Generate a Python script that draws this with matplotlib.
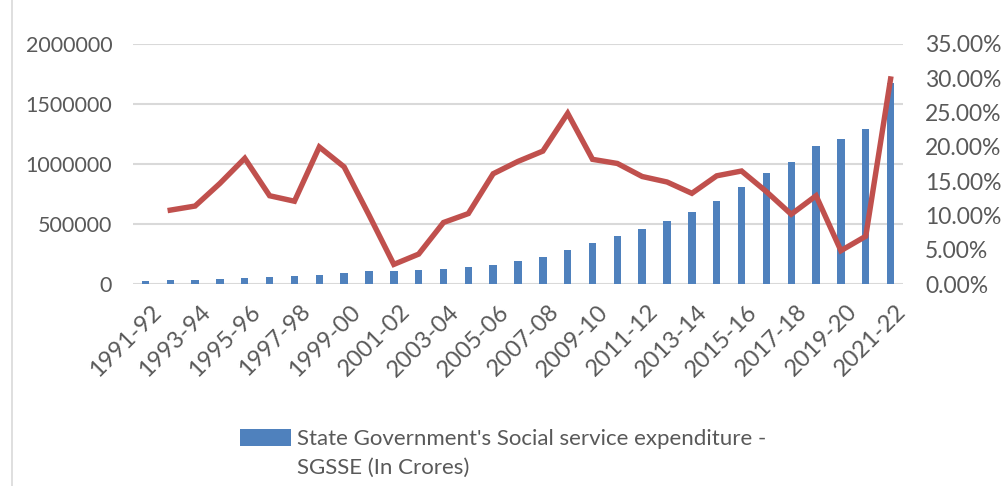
import numpy as np
import matplotlib
matplotlib.use("Agg")
import matplotlib.pyplot as plt
import matplotlib.transforms as mtransforms
from matplotlib.lines import Line2D
from matplotlib.patches import Rectangle
from matplotlib.ticker import FuncFormatter

plt.rcParams['font.family'] = ['Lato', 'DejaVu Sans']

# fiscal years 1991-92 .. 2021-22
years = [f"{y}-{str(y + 1)[-2:]}" for y in range(1991, 2022)]

# SGSSE, in crores
sgsse = [28000, 33000, 39000, 44000, 52000, 61000, 69000, 80000, 97000, 108000,
         111000, 119000, 130000, 141000, 163000, 194000, 228000, 287000, 340000,
         398000, 462000, 531000, 603000, 697000, 813000, 924000, 1015000, 1148000,
         1206000, 1291000, 1679000]

# annual growth rate (%), none for the first year
growth = [np.nan, 10.8, 11.4, 14.7, 18.35, 12.9, 12.1, 20.0, 17.1, 10.1, 2.9,
          4.4, 9.0, 10.3, 16.1, 17.9, 19.4, 24.9, 18.2, 17.6, 15.7, 14.9, 13.25,
          15.8, 16.5, 13.5, 10.2, 12.9, 4.9, 7.0, 29.9]

legend_lines = ["State Government's Social service expenditure -",
                "SGSSE (In Crores)"]

txt = '#595959'
fig = plt.figure(figsize=(10.03, 4.86), dpi=100)
ax = fig.add_axes([0.1326, 0.415, 0.7677, 0.4945])
x = np.arange(len(years))

ax.set_axisbelow(True)
ax.yaxis.grid(True, color='#D9D9D9', linewidth=1.5)
bars = ax.bar(x, sgsse, width=0.3, color='#4F81BD', zorder=2)
ax.set_xlim(-0.5, len(years) - 0.5)
ax.set_ylim(0, 2000000)
ax.set_yticks(np.arange(0, 2000001, 500000))
ax.yaxis.set_major_formatter(FuncFormatter(lambda v, p: f"{int(v)}"))
ax.set_xticks(x[::2])
ax.set_xticklabels(years[::2], rotation=45, ha='right', va='top',
                   rotation_mode='anchor')
for s in ax.spines.values():
    s.set_visible(False)
ax.tick_params(axis='y', length=0, labelsize=15.5, colors=txt, pad=15)
ax.tick_params(axis='x', length=0, labelsize=17, colors=txt, pad=12)
shift = mtransforms.ScaledTranslation(5 / 100, 0, fig.dpi_scale_trans)
for lab in ax.get_xticklabels():
    lab.set_transform(lab.get_transform() + shift)

ax2 = ax.twinx()
ax2.plot(x, [g / 100 for g in growth], color='#C0504D', linewidth=3.9,
         solid_joinstyle='miter', zorder=3)
ax2.set_ylim(0, 0.35)
ax2.set_yticks(np.arange(0, 0.3501, 0.05))
ax2.yaxis.set_major_formatter(FuncFormatter(lambda v, p: f"{v * 100:.2f}%"))
for s in ax2.spines.values():
    s.set_visible(False)
ax2.tick_params(axis='y', length=0, labelsize=16.5, colors=txt, pad=16)

# legend: bar swatch beside the first line, second line wraps under the text
blank = Rectangle((0, 0), 1, 1, visible=False)
fig.legend(handles=[bars, blank], labels=legend_lines, loc='upper left',
           bbox_to_anchor=(0.2393, 0.118), frameon=False, fontsize=16,
           labelcolor=txt, handlelength=2.3, handleheight=0.85,
           handletextpad=0.25, borderpad=0, borderaxespad=0,
           labelspacing=0.35)

# chart-area border on the left
fig.add_artist(Line2D([0.012, 0.012], [0, 1], color='#D9D9D9', linewidth=1.2))

fig.savefig('out.png', dpi=100)
